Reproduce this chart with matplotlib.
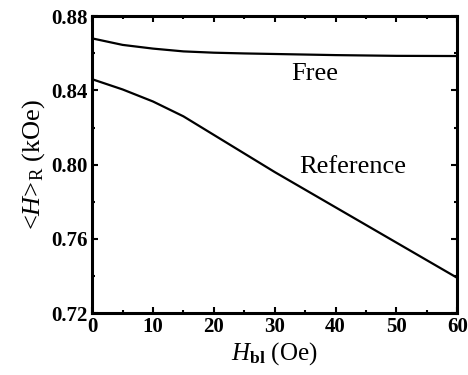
import matplotlib
matplotlib.use('Agg')
import matplotlib.pyplot as plt
from matplotlib.ticker import MultipleLocator

# Datos
h_bl = [0, 5, 10, 15, 20, 25, 30, 40, 50, 60]
free = [0.868, 0.8645, 0.8625, 0.861, 0.8603, 0.8599, 0.8596, 0.8590, 0.8586, 0.8585]
reference = [0.846, 0.8405, 0.834, 0.826, 0.816, 0.806, 0.796, 0.777, 0.758, 0.739]

plt.rcParams['font.family'] = ['Liberation Serif', 'DejaVu Serif']
plt.rcParams['mathtext.fontset'] = 'custom'
plt.rcParams['mathtext.rm'] = 'Liberation Serif'
plt.rcParams['mathtext.it'] = 'Liberation Serif:italic'
plt.rcParams['mathtext.bf'] = 'Liberation Serif:bold'

fig = plt.figure(figsize=(4.68, 3.75), dpi=100)
ax = fig.add_axes([0.197, 0.165, 0.78, 0.792])

ax.plot(h_bl, free, color='black', lw=1.6)
ax.plot(h_bl, reference, color='black', lw=1.6)

ax.set_xlim(0, 60)
ax.set_ylim(0.72, 0.88)
ax.xaxis.set_major_locator(MultipleLocator(10))
ax.xaxis.set_minor_locator(MultipleLocator(5))
ax.yaxis.set_minor_locator(MultipleLocator(0.02))
ax.tick_params(which='both', direction='in', top=True, right=True, width=1.5)
ax.tick_params(which='major', length=4, labelsize=15, pad=3)
ax.tick_params(which='minor', length=2.5)
ax.set_yticks([0.72, 0.76, 0.80, 0.84, 0.88])
ax.set_yticklabels(['0.72', '0.76', '0.80', '0.84', '0.88'])
for lab in ax.get_xticklabels() + ax.get_yticklabels():
    lab.set_fontweight('bold')
for s in ax.spines.values():
    s.set_linewidth(2.2)

ax.text(32.7, 0.8456, 'Free', fontsize=19)
ax.text(34, 0.7957, 'Reference', fontsize=19)

ax.set_xlabel(r'$\mathit{H}_{\mathbf{bl}}$ (Oe)', fontsize=18, labelpad=2)
ax.set_ylabel(r'<$\mathit{H}$>$_{\mathrm{R}}$ (kOe)', fontsize=19, labelpad=3)

fig.savefig('out.png', dpi=100)
